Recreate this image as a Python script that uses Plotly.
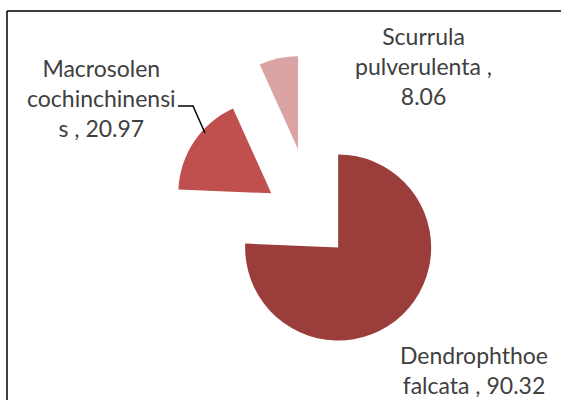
import plotly.graph_objects as go

# Data
species = ["Dendrophthoe falcata", "Macrosolen cochinchinensis", "Scurrula pulverulenta"]
values = [90.32, 20.97, 8.06]
label_texts = ["Dendrophthoe<br>falcata , 90.32",
               "Macrosolen<br>cochinchinensi<br>s , 20.97",
               "Scurrula<br>pulverulenta ,<br>8.06"]
colors = ["#9B3D3B", "#C0504D", "#D9A4A3"]
pulls = [0.38, 0.55, 0.8]

W, H = 561, 400

def px(x):
    return x / W

def py(y):
    return 1 - y / H

cx, cy, r = 313.7, 222.0, 93
half = r * (1 + max(pulls))

fig = go.Figure(go.Pie(
    labels=species,
    values=values,
    sort=False,
    direction="clockwise",
    rotation=0,
    pull=pulls,
    marker=dict(colors=colors, line=dict(width=0)),
    textinfo="none",
    hoverinfo="label+value",
    showlegend=False,
    domain=dict(x=[px(cx - half), px(cx + half)], y=[py(cy + half), py(cy - half)]),
))

font = dict(family="Lato, Open Sans, sans-serif", size=23, color="#404040")
label_pos = [(474, 370), (101, 98), (424, 66)]
for txt, (x, y) in zip(label_texts, label_pos):
    fig.add_annotation(text=txt, x=px(x), y=py(y), xref="paper", yref="paper",
                       xanchor="center", yanchor="middle", showarrow=False,
                       font=font, align="center")

# leader line for Macrosolen label
fig.add_shape(type="path", xref="paper", yref="paper",
              path=f"M {px(178)} {py(106)} L {px(193)} {py(106)} L {px(205)} {py(133)}",
              line=dict(color="#000000", width=1.5))

# chart frame
fig.add_shape(type="line", xref="paper", yref="paper", x0=px(7), x1=px(7), y0=py(11), y1=py(400),
              line=dict(color="#000000", width=1.5))
fig.add_shape(type="line", xref="paper", yref="paper", x0=px(7), x1=px(561), y0=py(11), y1=py(11),
              line=dict(color="#000000", width=1.5))

fig.update_layout(width=W, height=H, margin=dict(l=0, r=0, t=0, b=0),
                  paper_bgcolor="white", plot_bgcolor="white")

fig.write_html("out.html", config={"displayModeBar": False},
               post_script="document.body.style.margin='0';document.body.style.overflow='hidden';")
